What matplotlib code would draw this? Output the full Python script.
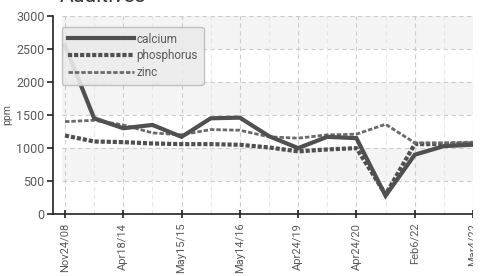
import matplotlib.pyplot as plt
from matplotlib.patches import Rectangle

dates = ["Nov24/08", "", "Apr18/14", "", "May15/15", "", "May14/16", "",
         "Apr24/19", "", "Apr24/20", "", "Feb6/22", "", "Mar4/22"]
calcium = [2550, 1450, 1300, 1350, 1170, 1450, 1460, 1180, 1000, 1170, 1150, 280, 900, 1030, 1050]
phosphorus = [1190, 1100, 1090, 1070, 1060, 1060, 1050, 1010, 950, 980, 1000, 300, 1060, 1060, 1070]
zinc = [1400, 1420, 1350, 1230, 1200, 1280, 1270, 1170, 1150, 1200, 1210, 1360, 1080, 1080, 1090]
y_ticks = [0, 500, 1000, 1500, 2000, 2500, 3000]

plt.rcParams["font.family"] = ["Roboto", "DejaVu Sans"]
text_col = "#5a5a5a"

fig = plt.figure(figsize=(4.84, 2.76), dpi=100)
W, H = 484, 276
ax = fig.add_axes([53 / W, 1 - 214.3 / H, 420 / W, 198.6 / H])

x = list(range(len(dates)))
ax.set_xlim(-12 / 29.14, len(dates) - 1)
ax.set_ylim(0, 3000)

# alternating bands
xmin_frac = 9 / 420
for lo in (500, 1500, 2500):
    ax.axhspan(lo, lo + 500, xmin=xmin_frac, color="#f4f4f4", zorder=0, lw=0)
for y in y_ticks[1:]:
    ax.axhline(y, xmin=xmin_frac, color="#cccccc", ls=(0, (4, 3)), lw=0.8, zorder=1)
for i in x:
    col = "#cccccc" if i % 2 == 0 else "#e6e6e6"
    ax.axvline(i, color=col, ls=(0, (4, 3)), lw=0.8, zorder=1)

ax.plot(x, calcium, color="#505050", lw=3.0, solid_joinstyle="miter", label="calcium", zorder=4)
ax.plot(x, phosphorus, color="#505050", lw=3.0, ls=(0, (1, 0.45)), label="phosphorus", zorder=3)
ax.plot(x, zinc, color="#6a6a6a", lw=2.0, ls=(0, (1.6, 0.7)), label="zinc", zorder=3)

ax.set_xticks(x[::2])
ax.set_xticklabels(dates[::2], rotation=90, fontsize=8, color=text_col)
ax.set_yticks(y_ticks)
ax.set_yticklabels([str(v) for v in y_ticks], fontsize=9, color=text_col)
ax.tick_params(axis="x", direction="inout", length=6, width=1.2, color="#222222", pad=3)
ax.tick_params(axis="y", direction="out", length=4, width=1.2, color="#222222", pad=2)

for s in ("top", "right"):
    ax.spines[s].set_visible(False)
for s in ("left", "bottom"):
    ax.spines[s].set_color("#222222")
    ax.spines[s].set_linewidth(1.2)

ax.set_ylabel("ppm", fontsize=7.5, color=text_col)
ax.yaxis.set_label_coords(-(53 - 12) / 420, 0.5)

leg = ax.legend(loc="upper left", bbox_to_anchor=(9 / 420, 1 - 11 / 198.6), borderaxespad=0,
                fontsize=8.5, handlelength=5.6, handletextpad=0.2, labelspacing=0.3,
                fancybox=True, framealpha=0.9, facecolor="#ebebeb", edgecolor="#bbbbbb",
                borderpad=0.5)
for t in leg.get_texts():
    t.set_color(text_col)

fig.text(60 / W, 1 - 2 / H, "Additives", fontsize=15, color="#333333", va="baseline", ha="left")

# the reference is clipped at the right edge
fig.patches.append(Rectangle((473 / W, 0), 1, 1, transform=fig.transFigure,
                             facecolor="white", edgecolor="none", zorder=10))

fig.savefig("out.png", dpi=100)
